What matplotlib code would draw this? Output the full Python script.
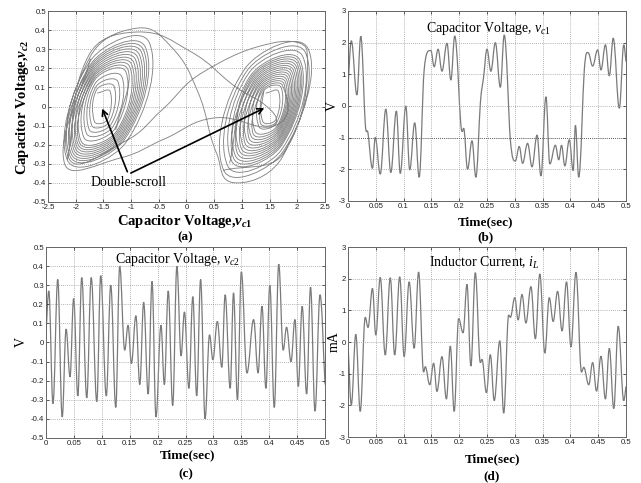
import numpy as np
import matplotlib
matplotlib.use("Agg")
import matplotlib.pyplot as plt
from matplotlib.path import Path
from matplotlib.patches import PathPatch

plt.rcParams['font.family'] = ['Liberation Serif', 'DejaVu Serif']
plt.rcParams['axes.unicode_minus'] = False
plt.rcParams['mathtext.fontset'] = 'custom'
plt.rcParams['mathtext.rm'] = 'Liberation Serif'
plt.rcParams['mathtext.it'] = 'Liberation Serif:italic'
plt.rcParams['mathtext.bf'] = 'Liberation Serif:bold'
plt.rcParams['mathtext.bfit'] = 'Liberation Serif:bold:italic'

nan = np.nan

# ---- (a) phase portrait v_c1 / v_c2: ring corner points (nan = pen up) ----
a_vc1 = [
    # left scroll growing, over the top to the right scroll, shrinking
    -1.61, -1.38, -1.43, -1.66, -1.622, -1.309, -1.396, -1.709,
    -1.633, -1.238, -1.363, -1.758, -1.645, -1.167, -1.329, -1.807,
    -1.657, -1.096, -1.295, -1.856, -1.669, -1.025, -1.261, -1.905,
    -1.681, -0.955, -1.229, -1.955, -1.693, -0.884, -1.195, -2.004,
    -1.705, -0.813, -1.161, -2.053, -1.717, -0.742, -1.127, -2.102,
    -1.728, -0.671, -1.094, -2.151, -1.74,
    -0.90, -0.30, 0.20, 0.55, 0.90,
    1.74, 2.20, 1.06, 0.671, 1.728, 2.151, 1.094,
    0.742, 1.717, 2.102, 1.127, 0.813, 1.705, 2.053, 1.161,
    0.884, 1.693, 2.004, 1.195, 0.955, 1.681, 1.955, 1.229,
    1.025, 1.669, 1.905, 1.261, 1.096, 1.657, 1.856, 1.295,
    1.167, 1.645, 1.807, 1.329, 1.238, 1.633, 1.758, 1.363,
    1.309, 1.622, 1.709, 1.396, 1.38, 1.61, 1.66, 1.43, nan,
    # top edge of the right scroll back into the left scroll
    0.671, 1.734, 2.176, 1.60, 0.30, -0.45,
    -1.11, -2.126, -1.711, -0.778, -1.144, -2.078, -1.699, -0.85,
    -1.178, -2.028, -1.687, -0.92, -1.212, -1.98, -1.675, -0.99,
    -1.245, -1.93, -1.663, -1.06, -1.278, nan,
    # lower edge of the left scroll into the right centre
    -1.734, -2.20, -1.20, -0.40, 0.50,
    1.628, 1.734, 1.38, 1.203, 1.639, 1.783, 1.346,
    1.132, 1.651, 1.832, 1.312, 1.06, 1.663, 1.88, 1.278,
    0.99, 1.675, 1.93, 1.245, 0.92, 1.687, 1.98, 1.212,
    0.85, 1.699, 2.028, 1.178, 0.778, nan,
    # outer top of the left scroll down to the right centre
    -2.151, -1.76, -0.90, 0.06, 0.90, 1.45, 1.62, 1.34, 1.396]
a_vc2 = [
    0.07, 0.08, -0.07, -0.08, 0.088, 0.106, -0.082, -0.10,
    0.104, 0.13, -0.094, -0.12, 0.122, 0.156, -0.106, -0.14,
    0.139, 0.182, -0.117, -0.16, 0.157, 0.208, -0.129, -0.18,
    0.173, 0.232, -0.141, -0.20, 0.191, 0.258, -0.153, -0.22,
    0.208, 0.284, -0.164, -0.24, 0.226, 0.31, -0.176, -0.26,
    0.242, 0.334, -0.188, -0.28, 0.26,
    0.41, 0.32, 0.08, -0.25, -0.40,
    -0.26, 0.30, 0.20, -0.334, -0.242, 0.28, 0.188,
    -0.31, -0.226, 0.26, 0.176, -0.284, -0.208, 0.24, 0.164,
    -0.258, -0.191, 0.22, 0.153, -0.232, -0.173, 0.20, 0.141,
    -0.208, -0.157, 0.18, 0.129, -0.182, -0.139, 0.16, 0.117,
    -0.156, -0.122, 0.14, 0.106, -0.13, -0.104, 0.12, 0.094,
    -0.106, -0.088, 0.10, 0.082, -0.08, -0.07, 0.08, 0.07, nan,
    -0.334, -0.251, 0.29, 0.335, 0.18, -0.02,
    -0.182, -0.27, 0.217, 0.297, -0.17, -0.25, 0.20, 0.271,
    -0.158, -0.23, 0.182, 0.245, -0.147, -0.21, 0.165, 0.22,
    -0.135, -0.19, 0.148, 0.195, -0.123, nan,
    0.251, -0.30, -0.27, -0.17, -0.06,
    -0.096, 0.11, 0.088, -0.143, -0.113, 0.13, 0.10,
    -0.169, -0.131, 0.15, 0.112, -0.195, -0.148, 0.17, 0.123,
    -0.22, -0.165, 0.19, 0.135, -0.245, -0.182, 0.21, 0.147,
    -0.271, -0.20, 0.23, 0.158, -0.297, nan,
    -0.28, 0.27, 0.39, 0.29, 0.10, 0.00, -0.08, -0.09, 0.082]

# ---- (b) capacitor voltage v_c1 (V): turning points ----
b_t = [0.000, 0.006, 0.016, 0.023, 0.031, 0.036, 0.044, 0.049, 0.058, 0.068,
       0.077, 0.087, 0.094, 0.104, 0.111, 0.120, 0.128, 0.137, 0.149, 0.155,
       0.162, 0.169, 0.178, 0.185, 0.192, 0.203, 0.209, 0.215, 0.223, 0.230,
       0.238, 0.244, 0.250, 0.257, 0.265, 0.274, 0.281, 0.292, 0.301, 0.308,
       0.314, 0.323, 0.331, 0.340, 0.347, 0.356, 0.363, 0.373, 0.379, 0.384,
       0.390, 0.398, 0.405, 0.409, 0.415, 0.425, 0.432, 0.440, 0.449, 0.455,
       0.463, 0.470, 0.477, 0.488, 0.496, 0.500]
b_v = [0.60, 2.06, 0.35, 2.20, -0.55, -0.86, -1.97, -0.99, -2.15, -0.10,
       -2.10, -0.16, -2.13, 0.00, -2.02, -0.53, -2.25, 1.14, 1.75, 1.24,
       1.79, 1.10, 1.98, 0.82, 2.21, -0.60, -0.76, -2.00, -1.10, -2.25,
       0.08, 0.93, 1.79, 1.10, 2.00, 0.59, 2.24, -1.07, -1.74, -1.28,
       -1.81, -1.18, -1.92, -0.92, -2.21, 0.29, -1.83, -1.24, -1.70, -1.24,
       -1.89, -1.07, -2.04, -0.61, -2.25, 1.14, 1.68, 1.26, 1.77, 1.14,
       1.93, 0.95, 2.14, -0.07, 1.93, 1.40]

# ---- (c) capacitor voltage v_c2 (V): turning points ----
c_t = [0.000, 0.005, 0.0125, 0.021, 0.029, 0.036, 0.043, 0.0495, 0.057, 0.064,
       0.073, 0.081, 0.091, 0.098, 0.108, 0.116, 0.125, 0.132, 0.141, 0.147,
       0.153, 0.161, 0.168, 0.175, 0.183, 0.190, 0.197, 0.206, 0.212, 0.219,
       0.227, 0.2345, 0.242, 0.248, 0.256, 0.263, 0.270, 0.277, 0.285, 0.293,
       0.299, 0.307, 0.315, 0.321, 0.330, 0.336, 0.343, 0.350, 0.360, 0.372,
       0.380, 0.387, 0.394, 0.401, 0.409, 0.417, 0.425, 0.431, 0.439, 0.446,
       0.452, 0.459, 0.467, 0.474, 0.482, 0.491, 0.500]
c_v = [0.05, 0.27, -0.32, 0.33, -0.39, 0.07, -0.18, 0.23, -0.28, 0.34,
       -0.29, 0.34, -0.31, 0.35, -0.28, 0.30, -0.34, 0.40, -0.04, 0.09,
       -0.11, 0.14, -0.22, 0.21, -0.27, 0.32, -0.39, 0.09, -0.22, 0.27,
       -0.33, 0.40, -0.07, 0.16, -0.24, 0.24, -0.28, 0.33, -0.40, 0.04,
       -0.09, 0.11, -0.13, 0.25, -0.24, 0.26, -0.30, 0.37, -0.16, 0.12,
       -0.16, 0.19, -0.24, 0.30, -0.34, 0.41, -0.04, 0.08, -0.10, 0.12,
       -0.23, 0.19, -0.27, 0.29, -0.36, 0.25, -0.22]

# ---- (d) inductor current i_L (mA): turning points ----
d_t = [0.000, 0.006, 0.014, 0.022, 0.031, 0.036, 0.044, 0.050, 0.058, 0.067,
       0.076, 0.084, 0.093, 0.101, 0.110, 0.119, 0.127, 0.136, 0.139, 0.147,
       0.154, 0.160, 0.169, 0.177, 0.184, 0.191, 0.199, 0.207, 0.214, 0.221,
       0.229, 0.238, 0.241, 0.249, 0.256, 0.263, 0.273, 0.280, 0.289, 0.292,
       0.300, 0.306, 0.313, 0.320, 0.329, 0.337, 0.345, 0.354, 0.362, 0.369,
       0.377, 0.385, 0.393, 0.401, 0.410, 0.420, 0.424, 0.433, 0.440, 0.447,
       0.455, 0.463, 0.470, 0.478, 0.486, 0.496, 0.500]
d_i = [-0.04, -1.98, 0.24, -2.19, 0.78, 0.46, 1.69, 0.22, 2.04, -0.41,
       2.03, -0.41, 2.06, -0.46, 1.90, -0.20, 2.21, -0.95, -0.78, -1.35,
       -0.67, -1.56, -0.46, -1.80, -0.13, -2.19, 0.74, 0.29, 1.82, -0.76,
       2.19, -0.65, -0.55, -1.60, -0.40, -1.85, 0.04, -2.25, 0.85, 0.78,
       1.40, 0.70, 1.50, 0.60, 1.75, 0.10, 2.15, -0.35, 1.40, 0.65,
       1.60, 0.35, 1.90, -0.15, 2.20, -0.95, -0.80, -1.35, -0.65, -1.55,
       -0.45, -1.80, -0.20, -2.10, 0.50, -1.85, -1.40]


def curve_segment(xs, ys, flat_extrema, tfac, scale, lim):
    # cubic path through the points; time traces keep flat tangents at peaks
    n = len(xs)
    sx, sy = scale
    kind = []
    for i in range(n):
        if flat_extrema and 0 < i < n - 1 and (ys[i] - ys[i - 1]) * (ys[i + 1] - ys[i]) < 0:
            kind.append('h')
        else:
            kind.append('g')

    def tangent(i):
        if i == 0:
            return ((xs[1] - xs[0]) / 3, (ys[1] - ys[0]) / 3)
        if i == n - 1:
            return ((xs[i] - xs[i - 1]) / 3, (ys[i] - ys[i - 1]) / 3)
        return ((xs[i + 1] - xs[i - 1]) * tfac, (ys[i + 1] - ys[i - 1]) * tfac)

    def clamp(t, chord):
        if lim is None:
            return t
        ln = np.hypot(t[0] / sx, t[1] / sy)
        if ln > lim * chord:
            return (t[0] * lim * chord / ln, t[1] * lim * chord / ln)
        return t

    verts = [(xs[0], ys[0])]
    codes = [Path.MOVETO]
    for i in range(n - 1):
        dx, dy = xs[i + 1] - xs[i], ys[i + 1] - ys[i]
        chord = np.hypot(dx / sx, dy / sy)
        if kind[i] == 'h':
            c1 = (xs[i] + 0.38 * dx, ys[i])
        else:
            tx, ty = clamp(tangent(i), chord)
            c1 = (xs[i] + tx, ys[i] + ty)
        if kind[i + 1] == 'h':
            c2 = (xs[i + 1] - 0.38 * dx, ys[i + 1])
        else:
            tx, ty = clamp(tangent(i + 1), chord)
            c2 = (xs[i + 1] - tx, ys[i + 1] - ty)
        verts += [c1, c2, (xs[i + 1], ys[i + 1])]
        codes += [Path.CURVE4] * 3
    return verts, codes


def smooth_curve(xs, ys, flat_extrema=True, tfac=1 / 6, scale=(1, 1), lim=None):
    verts, codes = [], []
    seg_x, seg_y = [], []
    for x, y in list(zip(xs, ys)) + [(nan, nan)]:
        if np.isnan(x):
            if len(seg_x) > 1:
                v, c = curve_segment(seg_x, seg_y, flat_extrema, tfac, scale, lim)
                verts += v
                codes += c
            seg_x, seg_y = [], []
        else:
            seg_x.append(x)
            seg_y.append(y)
    return Path(verts, codes)


line_col = '#7a7a7a'
grid_col = '#9a9a9a'
tick_font = {'family': 'Liberation Sans', 'size': 5.6}


def style_axes(ax, xt, yt, xl, yl):
    ax.set_xlim(xl)
    ax.set_ylim(yl)
    ax.set_xticks(xt)
    ax.set_yticks(yt)
    ax.set_xticklabels(['%g' % (v + 0.0) for v in xt], fontdict=tick_font)
    ax.set_yticklabels(['%g' % (v + 0.0) for v in yt], fontdict=tick_font)
    ax.tick_params(direction='in', length=2.5, width=0.5, pad=1.5,
                   colors='#222222', top=True, right=True)
    ax.grid(True, color=grid_col, linestyle=(0, (1, 1.5)), linewidth=0.6)
    for s in ax.spines.values():
        s.set_color('#666666')
        s.set_linewidth(0.7)


def fig_text(x, y, s, **kw):
    fig.text(x / 641, 1 - y / 483, s, ha='center', **kw)


fig = plt.figure(figsize=(6.41, 4.83), dpi=100)

# (a)
ax1 = fig.add_axes([0.0749, 0.5818, 0.4321, 0.3954])
ax1.add_patch(PathPatch(smooth_curve(a_vc1, a_vc2, flat_extrema=False, tfac=0.276,
                                     scale=(5, 1), lim=0.42),
                        fill=False, edgecolor='#858585', linewidth=0.65))
style_axes(ax1, np.arange(-2.5, 2.51, 0.5), np.round(np.arange(-0.5, 0.51, 0.1), 1),
           (-2.5, 2.5), (-0.5, 0.5))
ax1.annotate('', xy=(-1.54, 0.003), xytext=(-1.05, -0.355),
             arrowprops=dict(arrowstyle='->', color='k', lw=1.2, mutation_scale=10))
ax1.annotate('', xy=(1.45, -0.002), xytext=(-1.05, -0.355),
             arrowprops=dict(arrowstyle='->', color='k', lw=1.2, mutation_scale=10))
ax1.text(-1.05, -0.398, 'Double-scroll', ha='center', va='center', fontsize=10)
fig_text(185, 225, r'Capacitor Voltage,$\mathbfit{v}_{\mathbfit{c}\mathbf{1}}$',
         va='baseline', fontsize=10.5, fontweight='bold')
fig_text(23, 107, r'Capacitor Voltage,$\mathbfit{v}_{\mathbfit{c}\mathbf{2}}$',
         va='center', rotation=90, fontsize=10.5, fontweight='bold')
fig_text(185, 240, '(a)', va='baseline', fontsize=9.5, fontweight='bold')

# (b)
ax2 = fig.add_axes([0.5429, 0.5839, 0.4337, 0.3934])
ax2.add_patch(PathPatch(smooth_curve(b_t, b_v), fill=False,
                        edgecolor=line_col, linewidth=0.9))
style_axes(ax2, np.round(np.arange(0, 0.501, 0.05), 2), np.arange(-3, 4, 1),
           (0, 0.5), (-3, 3))
ax2.axhline(-1, color='#444444', linestyle=(0, (1, 1.5)), linewidth=0.6)
ax2.text(0.252, 2.46, r'Capacitor Voltage, $v_{c1}$', ha='center', va='center',
         fontsize=10)
fig_text(486, 225, 'Time(sec)', va='baseline', fontsize=9.5, fontweight='bold')
fig_text(332, 106, 'V', va='center', rotation=90, fontsize=10)
fig_text(486, 240, '(b)', va='baseline', fontsize=9.5, fontweight='bold')

# (c)
ax3 = fig.add_axes([0.0718, 0.0932, 0.4353, 0.3954])
ax3.add_patch(PathPatch(smooth_curve(c_t, c_v), fill=False,
                        edgecolor=line_col, linewidth=0.9))
style_axes(ax3, np.round(np.arange(0, 0.501, 0.05), 2), np.round(np.arange(-0.5, 0.51, 0.1), 1),
           (0, 0.5), (-0.5, 0.5))
ax3.text(0.235, 0.437, r'Capacitor Voltage, $v_{c2}$', ha='center', va='center',
         fontsize=10)
fig_text(187.5, 458.5, 'Time(sec)', va='baseline', fontsize=9.5, fontweight='bold')
fig_text(21, 342, 'V', va='center', rotation=90, fontsize=10)
fig_text(186, 477, '(c)', va='baseline', fontsize=9.5, fontweight='bold')

# (d)
ax4 = fig.add_axes([0.5429, 0.0952, 0.4337, 0.3934])
ax4.add_patch(PathPatch(smooth_curve(d_t, d_i), fill=False,
                        edgecolor=line_col, linewidth=0.9))
style_axes(ax4, np.round(np.arange(0, 0.501, 0.05), 2), np.arange(-3, 4, 1),
           (0, 0.5), (-3, 3))
ax4.text(0.246, 2.5, r'Inductor Current, $i_L$', ha='center', va='center',
         fontsize=10)
fig_text(492.5, 462, 'Time(sec)', va='baseline', fontsize=9.5, fontweight='bold')
fig_text(334, 342, 'mA', va='center', rotation=90, fontsize=10)
fig_text(492, 479, '(d)', va='baseline', fontsize=9.5, fontweight='bold')

fig.savefig('out.png', dpi=100)
